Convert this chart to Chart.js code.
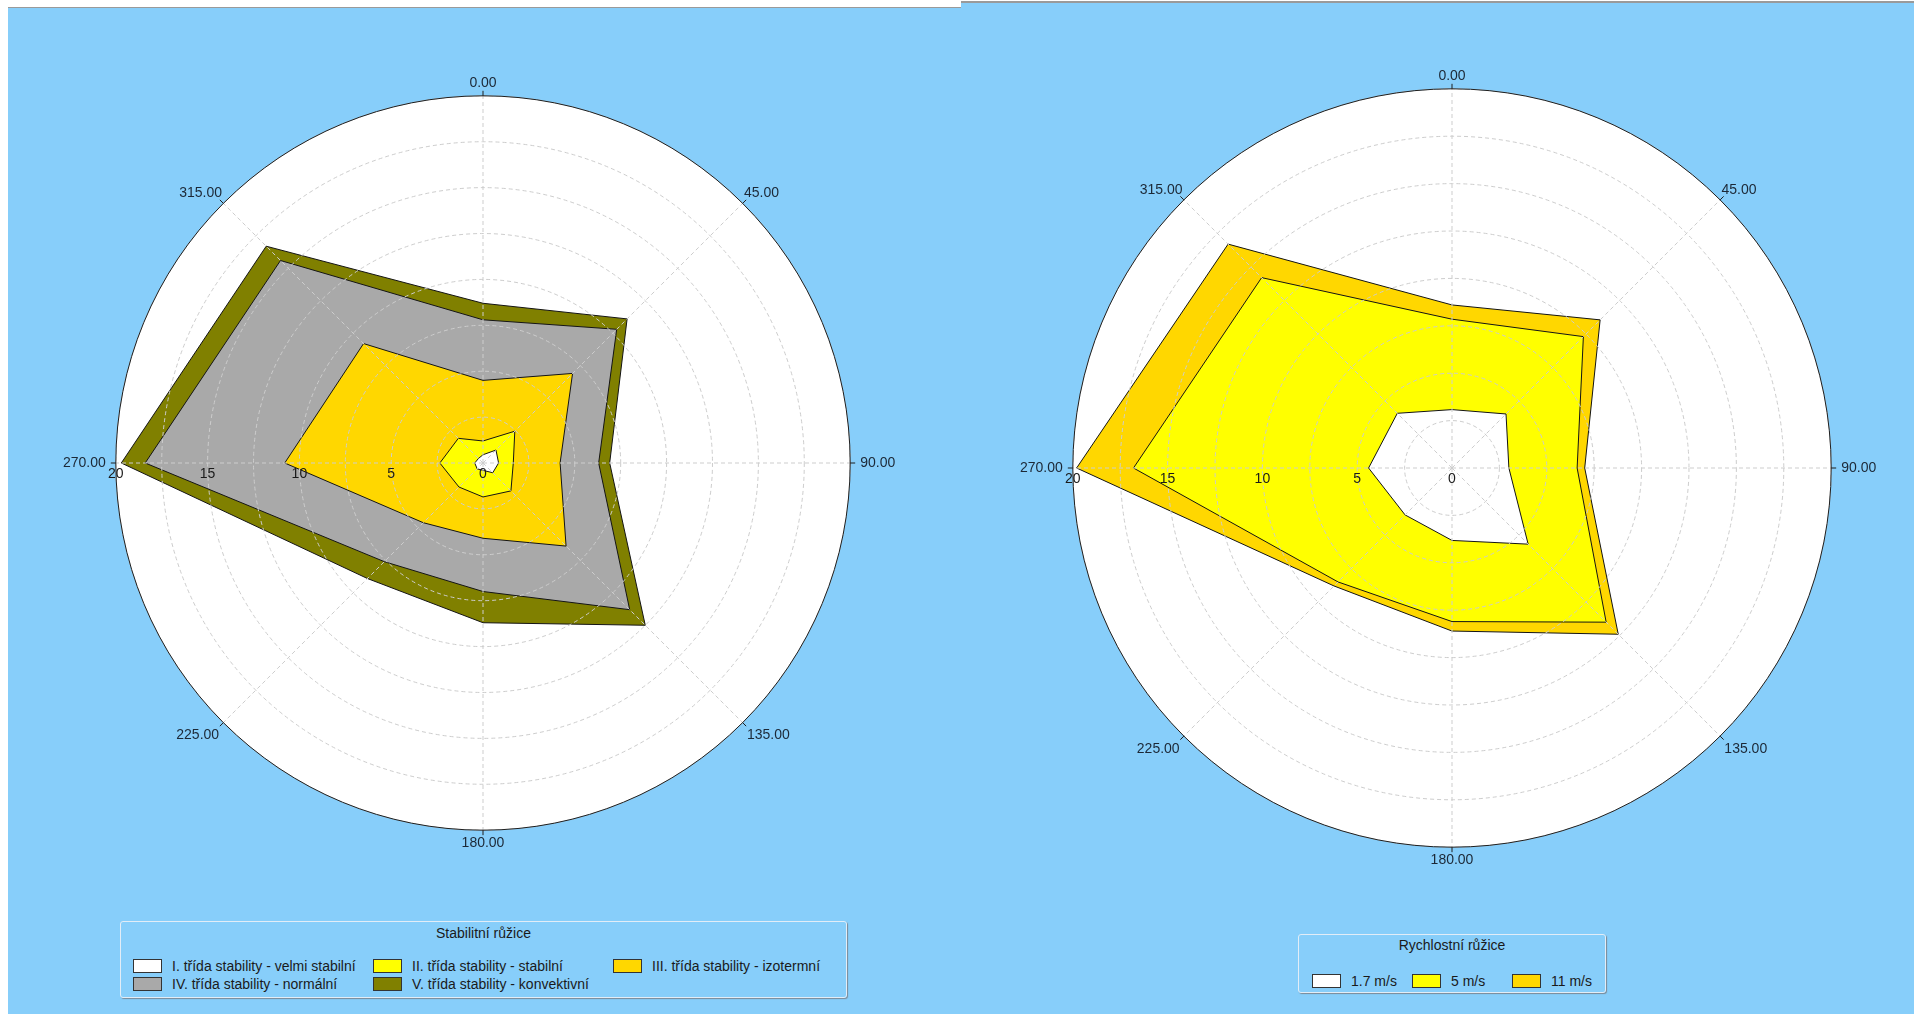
<!DOCTYPE html>
<html>
<head>
<meta charset="utf-8">
<script src="https://cdn.jsdelivr.net/npm/chart.js@4.4.1/dist/chart.umd.min.js"></script>
<style>
body { margin:0; width:1914px; height:1014px; background:#fff; position:relative; overflow:hidden; font-family:'Liberation Sans', Arial, sans-serif; }
.panel { position:absolute; background:#87cefa; border-top:1px solid #9a9a9a; }
#leftPanel { left:8px; top:7px; width:953px; height:1007px; }
#rightPanel { left:961px; top:1px; width:953px; height:1011px; border-top-width:2px; }
canvas { position:absolute; }
.legend { position:absolute; border:1px solid #e2edf7; border-radius:3px; box-shadow:1px 1px 1px #7d8a96; color:#1a1a1a; font-size:14px; }
.legend .ttl { position:absolute; left:0; right:0; text-align:center; line-height:16px; }
.legend ul { position:absolute; margin:0; padding:0; list-style:none; display:grid; }
.legend li { display:flex; align-items:center; height:18px; white-space:nowrap; }
.legend .sw { width:27px; height:12px; border:1px solid #333; margin-right:10px; flex:none; }
#legLeft { left:120px; top:921px; width:725px; height:75px; }
#legLeft .ttl { top:3px; }
#legLeft ul { top:35px; left:12px; grid-template-columns:240px 240px 240px; }
#legRight { left:1298px; top:934px; width:306px; height:57px; }
#legRight .ttl { top:2px; }
#legRight ul { top:37px; left:13px; grid-template-columns:100px 100px 100px; }
</style>
</head>
<body>
<div class="panel" id="leftPanel"></div>
<div class="panel" id="rightPanel"></div>
<canvas id="stabChart" width="840" height="840" style="left:60px;top:44px"></canvas>
<canvas id="speedChart" width="864" height="864" style="left:1017px;top:37px"></canvas>
<div class="legend" id="legLeft"><div class="ttl">Stabilitní růžice</div><ul></ul></div>
<div class="legend" id="legRight"><div class="ttl">Rychlostní růžice</div><ul></ul></div>
<script>
// wind directions, clockwise from north
var directions = ["0.00", "45.00", "90.00", "135.00", "180.00", "225.00", "270.00", "315.00"];

// stability rose (cumulative), N NE E SE S SW W NW
var classI   = [0.45, 1.0, 0.85, 0.75, 0.4, 0.45, 0.45, 0.35];
var classII  = [1.2, 2.45, 1.65, 2.15, 1.85, 1.85, 2.35, 1.9];
var classIII = [4.5, 6.9, 4.2, 6.4, 4.1, 4.6, 10.8, 9.2];
var classIV  = [7.8, 10.3, 6.3, 11.3, 7.0, 7.6, 18.4, 15.6];
var classV   = [8.7, 11.1, 6.9, 12.5, 8.7, 8.9, 19.7, 16.7];
var stabilityNames = ["I. třída stability - velmi stabilní", "II. třída stability - stabilní",
  "III. třída stability - izotermní", "IV. třída stability - normální", "V. třída stability - konvektivní"];
var stabilityColors = ['#ffffff', '#ffff00', '#ffd700', '#a9a9a9', '#808000'];

// speed rose (cumulative)
var speed17 = [3.08, 4.03, 3.0, 5.68, 3.82, 3.5, 4.4, 4.08];
var speed5  = [7.85, 9.8, 6.6, 11.5, 8.1, 8.5, 16.8, 14.2];
var speed11 = [8.6, 11.05, 7.0, 12.4, 8.6, 8.8, 19.8, 16.7];
var speedNames = ["1.7 m/s", "5 m/s", "11 m/s"];
var speedColors = ['#ffffff', '#ffff00', '#ffd700'];

// radial tick labels
var tickLabels = [0, 5, 10, 15, 20];

// gap between circle and direction label, per direction
var labelGap = [4, 2, 10, 6, 5, 6, 10, 2];

Chart.defaults.font.family = "'Liberation Sans', Arial, sans-serif";
Chart.defaults.font.size = 14;

// white disc under the polygons, outer ring, tick labels on the west axis
var roseDecor = {
  id: 'roseDecor',
  beforeDatasetsDraw: function(chart) {
    var s = chart.scales.r, c = chart.ctx;
    c.save();
    c.fillStyle = '#ffffff';
    c.beginPath();
    c.arc(s.xCenter, s.yCenter, s.drawingArea, 0, Math.PI * 2);
    c.fill();
    c.restore();
  },
  afterDraw: function(chart) {
    var s = chart.scales.r, c = chart.ctx;
    var R = s.getDistanceFromCenterForValue(s.max);
    c.save();
    c.strokeStyle = '#1e1e1e';
    c.lineWidth = 1;
    c.beginPath();
    c.arc(s.xCenter, s.yCenter, R, 0, Math.PI * 2);
    c.stroke();
    for (var i = 0; i < chart.data.labels.length; i++) {
      var a = s.getPointPosition(i, R), b = s.getPointPosition(i, R + 5);
      c.beginPath();
      c.moveTo(a.x, a.y);
      c.lineTo(b.x, b.y);
      c.stroke();
    }
    c.fillStyle = '#1a1a1a';
    c.font = "14px 'Liberation Sans', Arial, sans-serif";
    c.textAlign = 'center';
    c.textBaseline = 'middle';
    tickLabels.forEach(function(v) {
      var d = s.getDistanceFromCenterForValue(v);
      c.fillText(String(v), s.xCenter - d, s.yCenter + 11);
    });
    c.restore();
  }
};

// legend built from the chart's own legend items
var htmlLegend = {
  id: 'htmlLegend',
  afterUpdate: function(chart, args, options) {
    var ul = document.querySelector('#' + options.containerID + ' ul');
    ul.innerHTML = '';
    var items = chart.options.plugins.legend.labels.generateLabels(chart);
    items.forEach(function(item) {
      var li = document.createElement('li');
      var sw = document.createElement('span');
      sw.className = 'sw';
      sw.style.background = item.fillStyle;
      var tx = document.createElement('span');
      tx.textContent = item.text;
      li.appendChild(sw);
      li.appendChild(tx);
      ul.appendChild(li);
    });
  }
};

function makeRose(canvasId, legendId, series, names, colors) {
  var datasets = series.map(function(vals, i) {
    return {
      label: names[i],
      data: vals,
      backgroundColor: colors[i],
      borderColor: '#141414',
      borderWidth: 1,
      fill: true,
      pointRadius: 0,
      pointHoverRadius: 0,
      tension: 0
    };
  });
  return new Chart(document.getElementById(canvasId), {
    type: 'radar',
    data: { labels: directions, datasets: datasets },
    options: {
      responsive: false,
      animation: false,
      events: [],
      layout: { padding: 0 },
      plugins: {
        legend: { display: false },
        tooltip: { enabled: false },
        htmlLegend: { containerID: legendId }
      },
      scales: {
        r: {
          min: 0,
          max: 20,
          ticks: { stepSize: 2.5, display: false },
          grid: { circular: true, color: '#cdcdcd', lineWidth: 1, z: 1, borderDash: [4, 3] },
          border: { dash: [4, 3] },
          angleLines: { color: '#cdcdcd', lineWidth: 1, borderDash: [4, 3] },
          pointLabels: {
            color: '#1c2836',
            font: { size: 14 },
            padding: function(ctx) { return labelGap[ctx.index]; }
          }
        }
      }
    },
    plugins: [roseDecor, htmlLegend]
  });
}

makeRose('stabChart', 'legLeft', [classI, classII, classIII, classIV, classV], stabilityNames, stabilityColors);
makeRose('speedChart', 'legRight', [speed17, speed5, speed11], speedNames, speedColors);
</script>
</body>
</html>
